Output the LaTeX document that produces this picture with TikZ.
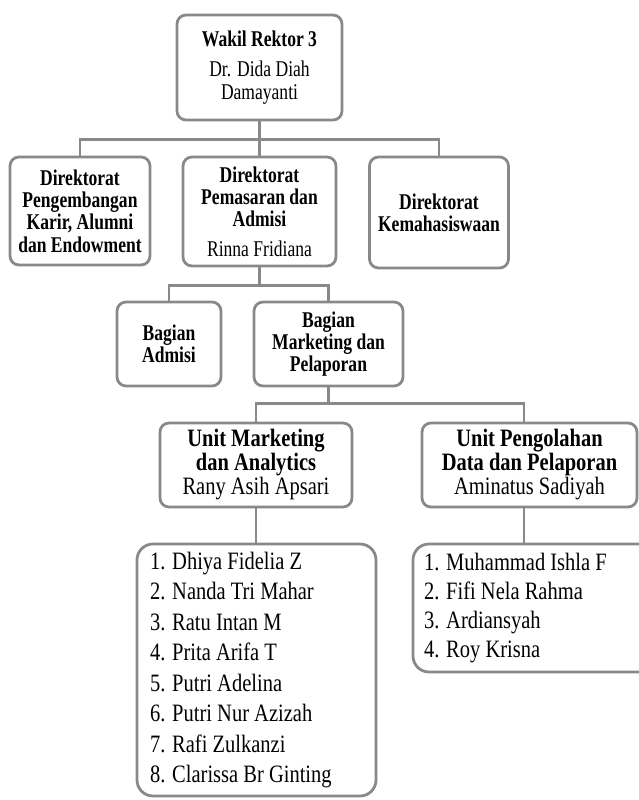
\documentclass[tikz,border=0pt]{standalone}
\usepackage{fontspec}
\setmainfont{Liberation Serif}[FakeStretch=0.82]
\newfontfamily\headfont{Liberation Serif}[FakeStretch=0.78]
\definecolor{lineGray}{RGB}{137,137,137}
\tikzstyle{orgBox}=[shape = rectangle, rounded corners = 9pt, draw = lineGray, line width = 2.8pt, align = center, inner sep = 2pt, font = \headfont\fontsize{22.5}{22.3}\selectfont]
\tikzstyle{unitBox}=[orgBox, font = \normalfont\fontsize{25}{23.5}\selectfont]
\tikzstyle{listBox}=[shape = rectangle, rounded corners = 16pt, draw = lineGray, line width = 2.8pt, align = flush left, inner xsep = 13pt]
\tikzstyle{orgEdge}=[draw = lineGray, line width = 2.8pt]

\begin{document}
\begin{tikzpicture}[x = 1pt, y = -1pt]
\useasboundingbox (0,0) rectangle (639,800);
\node[orgBox, minimum width = 165pt, minimum height = 105pt] (v0) at (259.5, 67.5) {\textbf{Wakil Rektor 3}\\[8pt] Dr. Dida Diah\\ Damayanti};
\node[orgBox, minimum width = 140pt, minimum height = 108pt] (v1) at (80, 211) {\textbf{Direktorat}\\ \textbf{Pengembangan}\\ \textbf{Karir, Alumni}\\ \textbf{dan Endowment}};
\node[orgBox, minimum width = 153pt, minimum height = 109pt] (v2) at (259.5, 211.5) {\textbf{Direktorat}\\ \textbf{Pemasaran dan}\\ \textbf{Admisi}\\[7pt] Rinna Fridiana};
\node[orgBox, minimum width = 139pt, minimum height = 111pt] (v3) at (439, 212.5) {\textbf{Direktorat}\\ \textbf{Kemahasiswaan}};
\node[orgBox, minimum width = 104pt, minimum height = 84pt] (v4) at (169, 344) {\textbf{Bagian}\\ \textbf{Admisi}};
\node[orgBox, minimum width = 149pt, minimum height = 84pt] (v5) at (328.5, 344) {\textbf{Bagian}\\ \textbf{Marketing dan}\\ \textbf{Pelaporan}};
\node[unitBox, minimum width = 192pt, minimum height = 84pt] (v6) at (256, 465) {\textbf{Unit Marketing}\\ \textbf{dan Analytics}\\[1pt] Rany Asih Apsari};
\node[unitBox, minimum width = 215pt, minimum height = 84pt] (v7) at (529.5, 465) {\textbf{Unit Pengolahan}\\ \textbf{Data dan Pelaporan}\\[1pt] Aminatus Sadiyah};
\node[listBox, text width = 213pt, minimum height = 252pt, font = \fontsize{25}{30.5}\selectfont] (v8) at (256.5, 670) {1. Dhiya Fidelia Z\\ 2. Nanda Tri Mahar\\ 3. Ratu Intan M\\ 4. Prita Arifa T\\ 5. Putri Adelina\\ 6. Putri Nur Azizah\\ 7. Rafi Zulkanzi\\ 8. Clarissa Br Ginting};
\node[listBox, inner xsep = 11pt, text width = 222pt, minimum height = 128pt, font = \fontsize{25}{29}\selectfont] (v9) at (535, 608) {1. Muhammad Ishla F\\ 2. Fifi Nela Rahma\\ 3. Ardiansyah\\ 4. Roy Krisna};
\draw[orgEdge] (v0.south) -- ++(0,18) coordinate (b0);
\draw[orgEdge] (b0) -| (v1.north);
\draw[orgEdge] (b0) -- (v2.north);
\draw[orgEdge] (b0) -| (v3.north);
\draw[orgEdge] (v2.south) -- ++(0,18) coordinate (b1);
\draw[orgEdge] (b1) -| (v4.north);
\draw[orgEdge] (b1) -| (v5.north);
\draw[orgEdge] (v5.south) -- ++(0,16) coordinate (b2);
\draw[orgEdge] (b2) -| (v6.north);
\draw[orgEdge] (b2) -| ([xshift=-5.5pt]v7.north);
\draw[orgEdge] (v6.south) -- (v6.south |- v8.north);
\draw[orgEdge] ([xshift=-5.5pt]v7.south) -- ([xshift=-5.5pt]v7.south |- v9.north);
%
\end{tikzpicture}
\end{document}
